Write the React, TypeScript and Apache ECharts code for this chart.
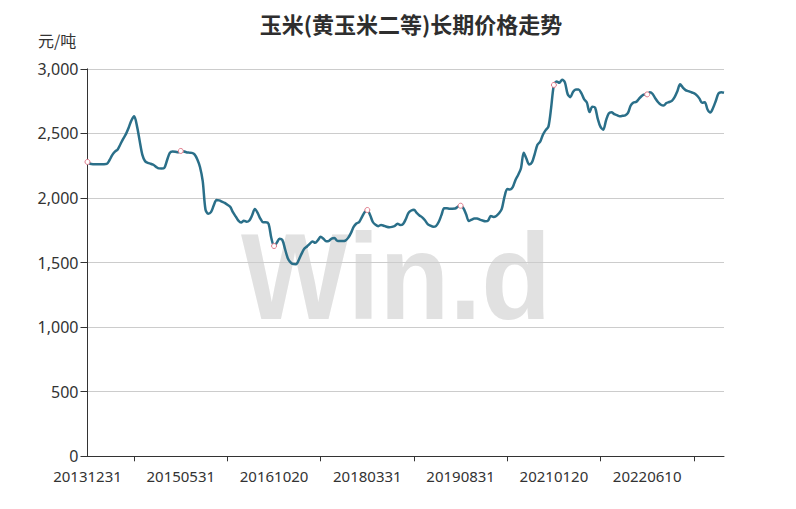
import React, { useEffect, useRef } from "react";
import * as echarts from "echarts";

const titleText = "玉米(黄玉米二等)长期价格走势";
const unitText = "元/吨";
const tickLabels = ["20131231", "20150531", "20161020", "20180331", "20190831", "20210120", "20220610"];
const pointsPerLabel = 34;
const yTicks = { min: 0, max: 3000, interval: 500 };

const prices = [
  2279, 2265, 2262, 2262, 2262, 2262, 2262, 2264, 2292, 2332,
  2359, 2376, 2416, 2458, 2494, 2544, 2600, 2632, 2560, 2444,
  2334, 2284, 2272, 2265, 2257, 2241, 2229, 2228, 2233, 2292,
  2349, 2359, 2358, 2353, 2364, 2362, 2354, 2351, 2349, 2338,
  2300, 2240, 2130, 1911, 1878, 1890, 1941, 1984, 1981, 1972,
  1962, 1948, 1932, 1890, 1857, 1825, 1810, 1824, 1816, 1826,
  1866, 1915, 1885, 1840, 1812, 1812, 1800, 1690, 1628, 1654,
  1684, 1675, 1605, 1534, 1502, 1488, 1487, 1520, 1567, 1606,
  1624, 1645, 1663, 1653, 1674, 1699, 1684, 1665, 1668, 1686,
  1690, 1669, 1666, 1666, 1670, 1691, 1728, 1776, 1802, 1813,
  1852, 1890, 1907, 1868, 1814, 1792, 1782, 1791, 1785, 1777,
  1773, 1776, 1783, 1801, 1790, 1797, 1835, 1885, 1903, 1909,
  1884, 1865, 1850, 1827, 1798, 1786, 1777, 1782, 1814, 1867,
  1920, 1920, 1917, 1917, 1918, 1933, 1940, 1921, 1874, 1821,
  1832, 1841, 1841, 1832, 1825, 1820, 1824, 1861, 1853, 1861,
  1881, 1915, 2010, 2070, 2065, 2084, 2140, 2180, 2230, 2350,
  2303, 2260, 2275, 2340, 2412, 2436, 2490, 2525, 2552, 2700,
  2875, 2902, 2892, 2916, 2895, 2805, 2780, 2823, 2840, 2840,
  2812, 2766, 2740, 2665, 2706, 2700, 2612, 2550, 2529, 2600,
  2655, 2664, 2649, 2641, 2633, 2636, 2640, 2658, 2716, 2739,
  2744, 2767, 2790, 2801, 2802, 2818, 2805, 2770, 2741, 2722,
  2716, 2735, 2743, 2752, 2780, 2826, 2880, 2855, 2835, 2827,
  2819, 2811, 2796, 2771, 2737, 2741, 2685, 2661, 2696, 2751,
  2810, 2818, 2814,
];

const categories = prices.map((_, i) =>
  i % pointsPerLabel === 0 && tickLabels[i / pointsPerLabel] ? tickLabels[i / pointsPerLabel] : "#" + i
);

export default function App() {
  const ref = useRef<HTMLDivElement>(null);
  useEffect(() => {
    if (!ref.current) return;
    const chart = echarts.init(ref.current, undefined, { renderer: "svg" });
    const isLabel = (i: number) => i % pointsPerLabel === 0;
    chart.setOption({
      animation: false,
      backgroundColor: "#ffffff",
      title: {
        text: titleText,
        left: 406,
        textAlign: "center",
        top: 7,
        textStyle: {
          fontFamily: "Noto Sans CJK SC",
          fontSize: 22,
          fontWeight: "bold",
          color: "#2e2e2e",
        },
      },
      graphic: [
        {
          type: "group",
          x: 396,
          y: 276,
          scaleX: 0.93,
          z: -10,
          silent: true,
          children: [
            {
              type: "text",
              x: 0,
              y: 0,
              z: -10,
              style: {
                text: "Win.d",
                fontFamily: "Liberation Sans",
                fontWeight: "bold",
                fontSize: 123,
                fill: "#e1e1e1",
                textAlign: "center",
                textVerticalAlign: "middle",
              },
            },
          ],
        },
        {
          type: "text",
          left: 38,
          top: 32,
          style: {
            text: unitText,
            fontFamily: "Noto Sans CJK SC",
            fontSize: 16,
            fill: "#333333",
          },
        },
      ],
      grid: { left: 87.5, right: 72, top: 68.8, bottom: 52.7 },
      xAxis: {
        type: "category",
        data: categories,
        boundaryGap: false,
        axisLine: { show: true, lineStyle: { color: "#333333", width: 1 } },
        axisTick: {
          show: true,
          length: 5,
          interval: (i: number) => i % pointsPerLabel === pointsPerLabel / 2,
          lineStyle: { color: "#333333" },
        },
        axisLabel: {
          interval: (i: number) => isLabel(i),
          formatter: (v: string) => v,
          fontFamily: "Noto Sans",
          fontSize: 15,
          lineHeight: 15,
          color: "#333333",
          margin: 12,
        },
        splitLine: { show: false },
      },
      yAxis: {
        type: "value",
        min: yTicks.min,
        max: yTicks.max,
        interval: yTicks.interval,
        axisLine: { show: true, lineStyle: { color: "#333333", width: 1 } },
        axisTick: { show: true, length: 7, lineStyle: { color: "#333333" } },
        axisLabel: {
          fontFamily: "Noto Sans",
          fontSize: 16,
          lineHeight: 15,
          color: "#333333",
          margin: 9,
          formatter: (v: number) => v.toLocaleString("en-US"),
        },
        splitLine: { show: true, lineStyle: { color: "#cccccc", width: 1 } },
      },
      series: [
        {
          type: "line",
          data: prices,
          smooth: 0.3,
          showSymbol: true,
          showAllSymbol: true,
          symbol: "circle",
          symbolSize: (_v: number, p: any) => (isLabel(p.dataIndex) ? 5 : 0),
          itemStyle: { color: "#ffffff", borderColor: "#e07a8a", borderWidth: 1 },
          lineStyle: { color: "#2a6f89", width: 2.5 },
          z: 3,
        },
      ],
    });
    return () => chart.dispose();
  }, []);
  return (
    <div
      ref={ref}
      style={{ position: "fixed", left: 0, top: 0, width: 796, height: 509 }}
    />
  );
}
